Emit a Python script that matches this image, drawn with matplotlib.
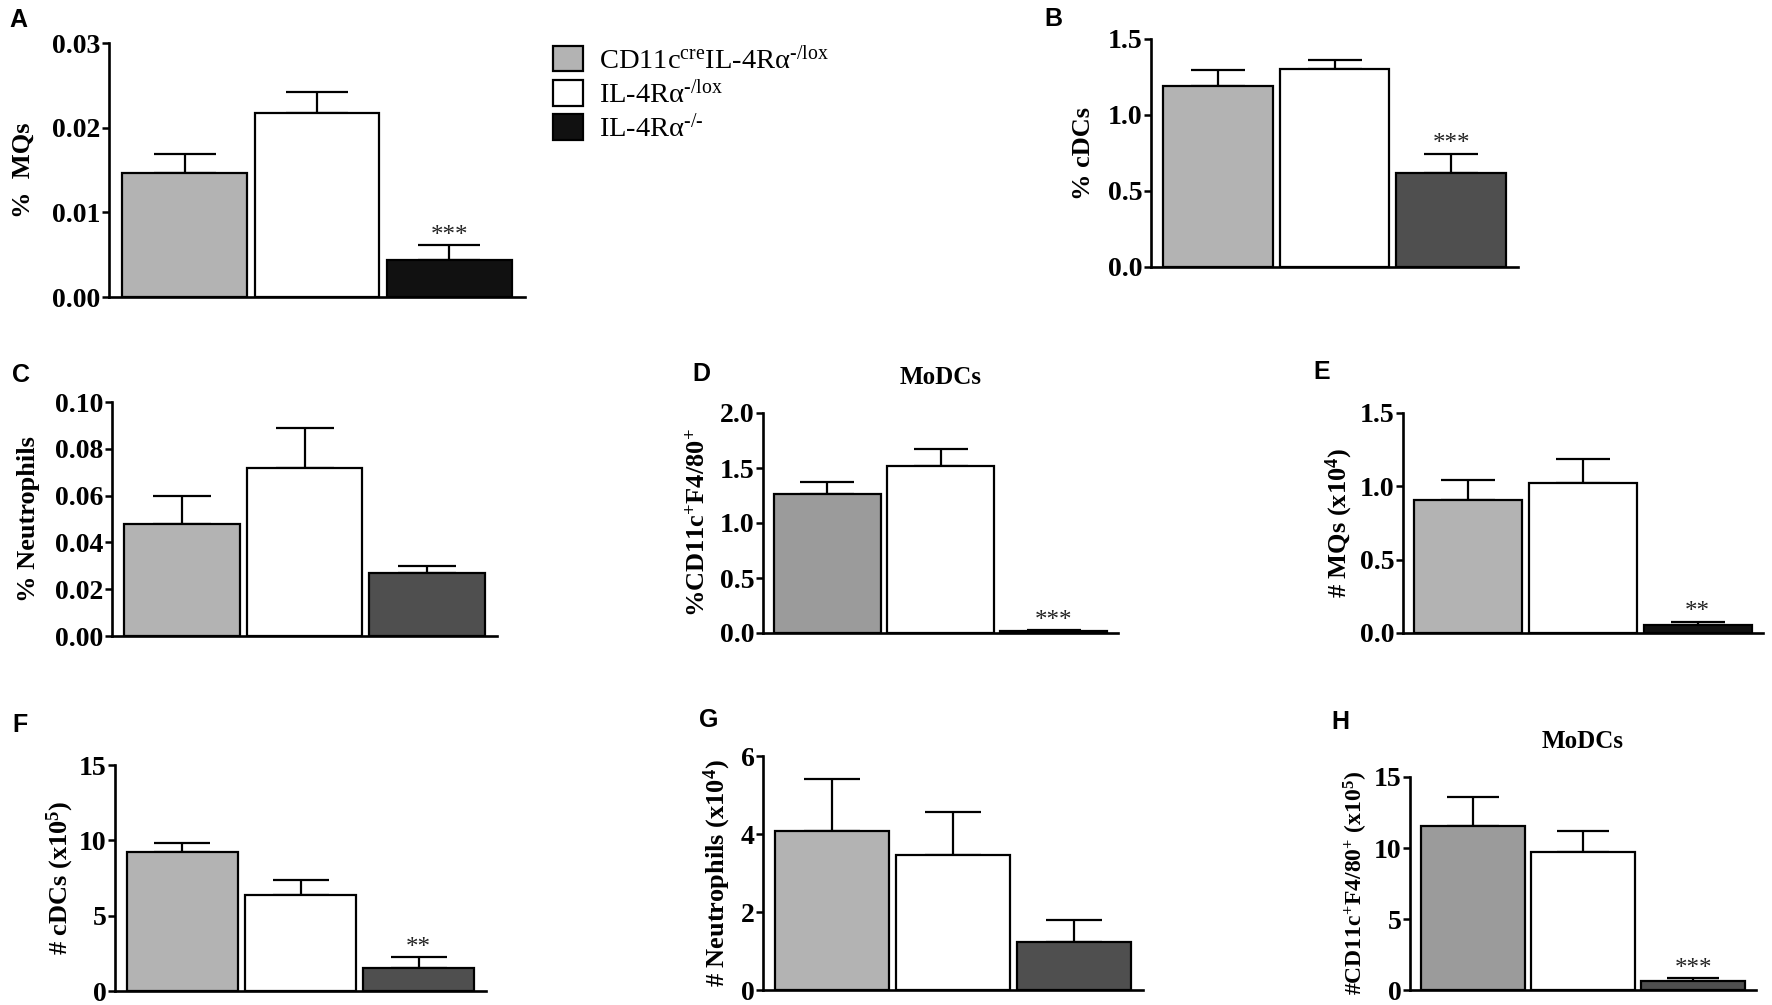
import matplotlib
matplotlib.use('Agg')
import matplotlib.pyplot as plt

plt.rcParams['font.family'] = 'Liberation Serif'
plt.rcParams['mathtext.fontset'] = 'custom'
plt.rcParams['mathtext.rm'] = 'Liberation Serif'
plt.rcParams['mathtext.it'] = 'Liberation Serif:italic'
plt.rcParams['mathtext.bf'] = 'Liberation Serif:bold'

W, H, DPI = 1772, 1005, 100

groups = ['CD11c$^{\\rm cre}$IL-4Rα$^{\\rm \u2010/lox}$',
          'IL-4Rα$^{\\rm \u2010/lox}$',
          'IL-4Rα$^{\\rm \u2010/\u2010}$']

# A  % MQs
mq_pct = [0.0146, 0.0217, 0.0044]
mq_pct_err = [0.0023, 0.0025, 0.0017]
# B  % cDCs
cdc_pct = [1.19, 1.30, 0.62]
cdc_pct_err = [0.105, 0.06, 0.125]
# C  % Neutrophils
neu_pct = [0.0478, 0.0720, 0.0269]
neu_pct_err = [0.0119, 0.0170, 0.0030]
# D  % MoDCs
modc_pct = [1.26, 1.52, 0.02]
modc_pct_err = [0.117, 0.152, 0.005]
# E  # MQs
mq_num = [0.91, 1.025, 0.052]
mq_num_err = [0.136, 0.159, 0.023]
# F  # cDCs
cdc_num = [9.24, 6.34, 1.55]
cdc_num_err = [0.60, 1.00, 0.69]
# G  # Neutrophils
neu_num = [4.08, 3.47, 1.24]
neu_num_err = [1.34, 1.09, 0.56]
# H  # MoDCs
modc_num = [11.55, 9.72, 0.61]
modc_num_err = [2.02, 1.50, 0.21]

light = '#b3b3b3'
mid = '#9b9b9b'
dark = '#4f4f4f'
black = '#111111'

fig = plt.figure(figsize=(W / DPI, H / DPI), dpi=DPI)


def panel(box, letter, letter_pos, means, errs, colors, yticks, yticklabels,
          ylabel, label_off, stars=None, title=None, label_size=19):
    left, right, top, bottom = box
    ax = fig.add_axes([left / W, 1 - bottom / H, (right - left) / W, (bottom - top) / H])
    x = [0, 1, 2]
    bw = 0.94
    bars = ax.bar(x, means, width=bw, color=colors, edgecolor='black', linewidth=1.6, zorder=3)
    bar_px = (right - left) * bw / 3.14
    ax.errorbar(x, means, yerr=[[0, 0, 0], errs], fmt='none', ecolor='black',
                elinewidth=1.6, capsize=0.25 * bar_px * 72 / DPI, capthick=1.6, zorder=2)
    ax.set_xlim(-0.57, 2.57)
    ax.set_ylim(yticks[0], yticks[-1])
    ax.set_xticks([])
    ax.set_yticks(yticks)
    ax.set_yticklabels(yticklabels, fontsize=20, fontweight='bold')
    ax.tick_params(axis='y', length=5, width=1.8, pad=1, direction='out')
    for s in ['top', 'right']:
        ax.spines[s].set_visible(False)
    for s in ['left', 'bottom']:
        ax.spines[s].set_linewidth(1.9)
    ax.set_ylabel(ylabel, fontsize=label_size, fontweight='bold', va='center')
    ax.yaxis.set_label_coords(-label_off / (right - left), 0.5)
    if stars:
        i, s = stars
        ax.annotate(s, xy=(x[i], means[i] + errs[i]), xytext=(0, -1),
                    textcoords='offset points', ha='center', va='bottom',
                    fontsize=18, color='#222222')
    if title:
        ax.set_title(title, fontsize=18, fontweight='bold', pad=21)
    fig.text(letter_pos[0] / W, 1 - letter_pos[1] / H, letter, family='Liberation Sans',
             fontweight='bold', fontsize=18, ha='left', va='top')
    return ax, bars


axA, barsA = panel((109, 525, 43, 297), 'A', (9, 8), mq_pct, mq_pct_err,
                   [light, 'white', black], [0, 0.01, 0.02, 0.03],
                   ['0.00', '0.01', '0.02', '0.03'], '%  MQs', 86, stars=(2, '***'))
panel((1151, 1518, 39, 267), 'B', (1044, 7), cdc_pct, cdc_pct_err,
      [light, 'white', dark], [0, 0.5, 1.0, 1.5], ['0.0', '0.5', '1.0', '1.5'],
      '% cDCs', 68, stars=(2, '***'))
panel((112, 497, 402, 636), 'C', (12, 363), neu_pct, neu_pct_err,
      [light, 'white', dark], [0, 0.02, 0.04, 0.06, 0.08, 0.10],
      ['0.00', '0.02', '0.04', '0.06', '0.08', '0.10'], '% Neutrophils', 83)
panel((763, 1118, 413, 633), 'D', (692, 362), modc_pct, modc_pct_err,
      [mid, 'white', dark], [0, 0.5, 1.0, 1.5, 2.0], ['0.0', '0.5', '1.0', '1.5', '2.0'],
      '%CD11c$^{\\mathbf{+}}$F4/80$^{\\mathbf{+}}$', 65, stars=(2, '***'), title='MoDCs')
panel((1403, 1763, 413, 633), 'E', (1313, 360), mq_num, mq_num_err,
      [light, 'white', black], [0, 0.5, 1.0, 1.5], ['0.0', '0.5', '1.0', '1.5'],
      '# MQs (x10$^{\\mathbf{4}}$)', 64, stars=(2, '**'))
panel((115, 486, 765, 991), 'F', (12, 713), cdc_num, cdc_num_err,
      [light, 'white', dark], [0, 5, 10, 15], ['0', '5', '10', '15'],
      '# cDCs (x10$^{\\mathbf{5}}$)', 55, stars=(2, '**'))
panel((763, 1143, 756, 990), 'G', (699, 708), neu_num, neu_num_err,
      [light, 'white', dark], [0, 2, 4, 6], ['0', '2', '4', '6'],
      '# Neutrophils (x10$^{\\mathbf{4}}$)', 46)
panel((1410, 1756, 777, 990), 'H', (1331, 710), modc_num, modc_num_err,
      [mid, 'white', dark], [0, 5, 10, 15], ['0', '5', '10', '15'],
      '#CD11c$^{\\mathbf{+}}$F4/80$^{\\mathbf{+}}$ (x10$^{\\mathbf{5}}$)', 54,
      stars=(2, '***'), title='MoDCs', label_size=17)

axA.legend(barsA, groups, loc='upper left', bbox_to_anchor=(553 / W, 1 - 46 / H),
           bbox_transform=fig.transFigure, frameon=False, fontsize=20.5,
           handlelength=1.06, handleheight=1.0, handletextpad=0.55,
           labelspacing=0.2, borderpad=0, borderaxespad=0)

fig.savefig('out.png', dpi=DPI)
